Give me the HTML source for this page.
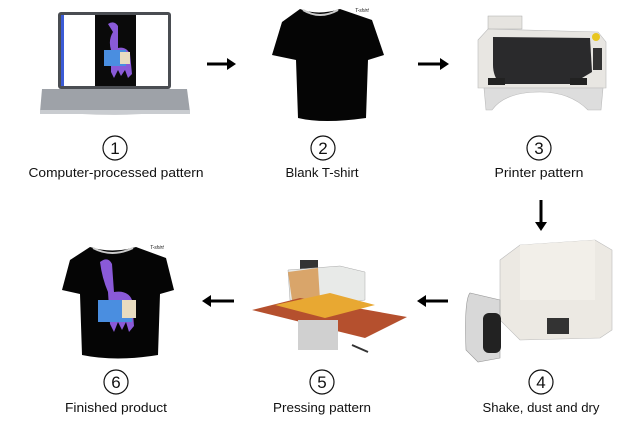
<!DOCTYPE html>
<html><head><meta charset="utf-8"><style>
html,body{margin:0;padding:0;background:#fff;}
svg{display:block;}
text{font-family:"Liberation Sans",sans-serif;fill:#111;}
</style></head><body>
<svg width="637" height="430" viewBox="0 0 637 430" xmlns="http://www.w3.org/2000/svg">
<rect width="637" height="430" fill="#fff"/>
<!-- Laptop -->
<rect x="58" y="12" width="113" height="77" rx="3" fill="#4a4d52"/>
<rect x="61" y="15" width="107" height="71" fill="#fff"/>
<rect x="61" y="15" width="3" height="71" fill="#3b5bd6"/>
<rect x="95" y="15" width="41" height="71" fill="#0a0a0a"/>
<path d="M108 24 q6-4 10 2 l0 22 q8-2 12 6 l2 20 -4 4 -3-8 -4 6 -3-6 -4 8 -3-6 0-22 q-3-10 2-18z" fill="#8a5ad8"/>
<rect x="104" y="50" width="22" height="16" fill="#4a8ee0"/>
<rect x="120" y="52" width="10" height="12" fill="#e8dcc0"/>
<path d="M42 89 L187 89 L190 112 Q115 117 40 112 Z" fill="#9ea2a8"/>
<rect x="40" y="110" width="150" height="4" fill="#c9ccd0"/>
<!-- arrow 1 -->
<line x1="207" y1="64" x2="229" y2="64" stroke="#000" stroke-width="3"/>
<path d="M236 64 L227 58 L227 70 Z" fill="#000"/>
<!-- T-shirt blank -->
<path d="M300 9 Q318 16 340 9 L372 20 L384 55 L368 60 L366 118 Q323 124 298 118 L296 60 L272 55 L282 22 Z" fill="#050505"/>
<path d="M303 10 Q320 20 338 10" stroke="#ccc" stroke-width="2" fill="none"/>
<text x="355" y="12" font-size="5" font-style="italic">T-shirt</text>
<!-- arrow 2 -->
<line x1="418" y1="64" x2="441" y2="64" stroke="#000" stroke-width="3"/>
<path d="M449 64 L440 58 L440 70 Z" fill="#000"/>
<!-- Printer -->
<rect x="488" y="16" width="34" height="13" fill="#e6e4e0" stroke="#aaa" stroke-width="0.5"/>
<path d="M478 40 L488 29 L598 32 L606 42 L606 88 L478 88 Z" fill="#e8e6e2" stroke="#bbb" stroke-width="0.6"/>
<path d="M493 37 L590 38 L592 72 L572 84 L500 84 Q493 76 493 65 Z" fill="#2a2a2c"/>
<circle cx="596" cy="37" r="4" fill="#e8c620"/>
<rect x="593" y="48" width="9" height="22" fill="#333"/>
<rect x="488" y="78" width="17" height="7" fill="#222"/>
<rect x="570" y="78" width="17" height="7" fill="#222"/>
<path d="M484 88 L603 88 L601 110 L588 110 Q570 92 540 92 Q505 92 492 110 L486 110 Z" fill="#ddd" stroke="#bbb" stroke-width="0.6"/>
<!-- circles row 1 -->
<g fill="none" stroke="#111" stroke-width="1.2">
<circle cx="115" cy="148" r="12"/><circle cx="323" cy="148" r="12"/><circle cx="539" cy="148" r="12"/>
<circle cx="116" cy="382" r="12"/><circle cx="322" cy="382" r="12"/><circle cx="541" cy="382" r="12"/>
</g>
<g font-size="17" text-anchor="middle">
<text x="115" y="154">1</text><text x="323" y="154">2</text><text x="539" y="154">3</text>
<text x="116" y="388">6</text><text x="322" y="388">5</text><text x="541" y="388">4</text>
</g>
<g font-size="13" text-anchor="middle">
<text x="116" y="177" textLength="175" lengthAdjust="spacingAndGlyphs">Computer-processed pattern</text>
<text x="322" y="177" textLength="73" lengthAdjust="spacingAndGlyphs">Blank T-shirt</text>
<text x="539" y="177" textLength="89" lengthAdjust="spacingAndGlyphs">Printer pattern</text>
<text x="116" y="412" textLength="102" lengthAdjust="spacingAndGlyphs">Finished product</text>
<text x="322" y="412" textLength="98" lengthAdjust="spacingAndGlyphs">Pressing pattern</text>
<text x="541" y="412" textLength="117" lengthAdjust="spacingAndGlyphs">Shake, dust and dry</text>
</g>
<!-- down arrow -->
<line x1="541" y1="200" x2="541" y2="223" stroke="#000" stroke-width="3"/>
<path d="M541 231 L535 222 L547 222 Z" fill="#000"/>
<!-- Finished tee -->
<path d="M90 247 Q112 254 136 247 L166 258 L174 290 L160 294 L158 355 Q116 362 82 355 L80 294 L62 290 L70 260 Z" fill="#050505"/>
<path d="M93 248 Q112 258 133 248" stroke="#ccc" stroke-width="2" fill="none"/>
<text x="150" y="249" font-size="5" font-style="italic">T-shirt</text>
<path d="M100 262 q8-6 12 2 l2 28 q14-2 18 8 l2 26 -5 6 -3-10 -4 8 -4-8 -4 10 -4-8 -2-32 q-6-14-8-30z" fill="#8a5ad8"/>
<rect x="98" y="300" width="34" height="22" fill="#4a8ee0"/>
<rect x="122" y="300" width="14" height="18" fill="#e8dcc0"/>
<!-- arrows row 2 -->
<line x1="210" y1="301" x2="234" y2="301" stroke="#000" stroke-width="3"/>
<path d="M202 301 L211 295 L211 307 Z" fill="#000"/>
<line x1="425" y1="301" x2="448" y2="301" stroke="#000" stroke-width="3"/>
<path d="M417 301 L426 295 L426 307 Z" fill="#000"/>
<!-- Press -->
<rect x="300" y="260" width="18" height="10" fill="#333"/>
<path d="M288 270 L340 266 L365 272 L365 300 L335 305 L290 300 Z" fill="#e8eae8" stroke="#aaa" stroke-width="0.5"/>
<path d="M288 272 L318 268 L320 300 L292 300 Z" fill="#d9a56a"/>
<path d="M252 310 L300 298 L407 317 L365 338 Z" fill="#b5502e"/>
<path d="M275 305 L330 293 L375 305 L325 318 Z" fill="#e8a832"/>
<rect x="298" y="320" width="40" height="30" fill="#d0d0d0"/>
<line x1="352" y1="345" x2="368" y2="352" stroke="#333" stroke-width="2"/>
<!-- Shaker -->
<path d="M500 260 L520 245 L595 240 L612 250 L612 330 L600 338 L520 340 L500 320 Z" fill="#ece9e3" stroke="#bbb" stroke-width="0.6"/>
<path d="M520 245 L595 240 L595 300 L520 300 Z" fill="#f2efe9"/>
<rect x="547" y="318" width="22" height="16" fill="#333"/>
<path d="M470 293 Q464 300 466 350 L478 362 L500 358 L500 300 Z" fill="#d8d8d8" stroke="#999" stroke-width="0.6"/>
<rect x="483" y="313" width="18" height="40" rx="6" fill="#222"/>
</svg>
</body></html>
